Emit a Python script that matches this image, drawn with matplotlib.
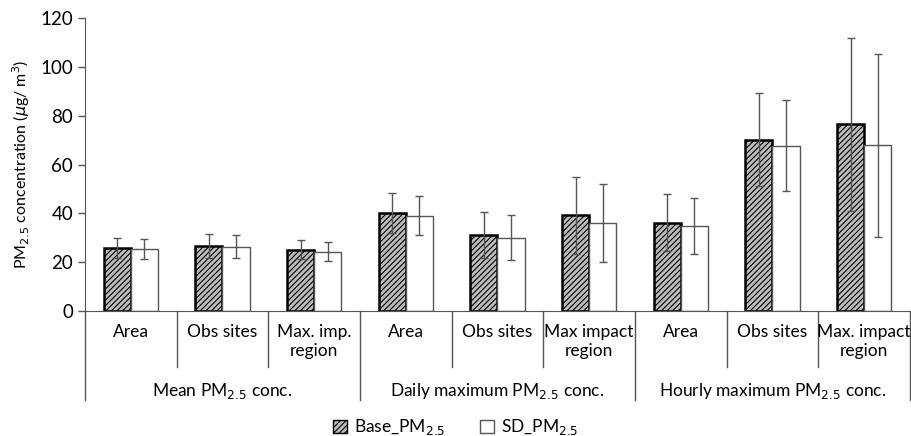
import matplotlib
matplotlib.use("Agg")
import matplotlib.pyplot as plt
import numpy as np
from matplotlib.patches import Patch

plt.rcParams["font.family"] = ["Lato", "DejaVu Sans"]
plt.rcParams["hatch.linewidth"] = 0.8

# data
groups = ["Mean PM$_{2.5}$ conc.", "Daily maximum PM$_{2.5}$ conc.", "Hourly maximum PM$_{2.5}$ conc."]
subcats = ["Area", "Obs sites", "Max. imp.\nregion",
           "Area", "Obs sites", "Max impact\nregion",
           "Area", "Obs sites", "Max. impact\nregion"]
base_vals = [25.8, 26.6, 25.0, 40.0, 31.3, 39.2, 36.2, 70.2, 76.4]
base_err = [4.0, 4.8, 3.9, 8.2, 9.4, 15.7, 11.7, 18.9, 35.5]
sd_vals = [25.5, 26.3, 24.3, 39.1, 30.0, 36.1, 34.8, 67.7, 67.9]
sd_err = [4.0, 4.7, 3.9, 8.1, 9.2, 16.1, 11.4, 18.6, 37.4]

fig = plt.figure(figsize=(9.11, 4.36), dpi=100)
ax = fig.add_axes([0.0933, 0.2867, 0.9056, 0.672])

x = np.arange(len(subcats))
w = 0.295
err_kw = dict(ecolor="#555555", elinewidth=1.0, capsize=3, capthick=1.0)

ax.bar(x - w / 2, base_vals, w, yerr=base_err, color="#bdbdbd", edgecolor="black",
       linewidth=1.8, hatch="//////", label="Base_PM$_{2.5}$", error_kw=err_kw, zorder=2)
ax.bar(x + w / 2, sd_vals, w, yerr=sd_err, color="white", edgecolor="#555555",
       linewidth=1.0, label="SD_PM$_{2.5}$", error_kw=err_kw, zorder=2)

ax.set_xlim(-0.5, len(subcats) - 0.5)
ax.set_ylim(0, 120)
ax.set_yticks(range(0, 121, 20))
ax.tick_params(axis="y", labelsize=13.5, length=5, color="#555555", width=1)
ax.set_xticks([])
for s in ["top", "right"]:
    ax.spines[s].set_visible(False)
ax.spines["left"].set_color("#555555")
ax.spines["bottom"].set_color("#555555")
ax.set_ylabel(r"PM$_{2.5}$ concentration ($\mu$g/ m$^3$)", fontsize=11.5, labelpad=6)

# hierarchical category axis
tr = ax.get_xaxis_transform()
for i in range(len(subcats) + 1):
    bottom = -0.304 if i % 3 == 0 else -0.191
    ax.plot([i - 0.5, i - 0.5], [0, bottom], transform=tr, color="#555555",
            lw=1.0, clip_on=False)
for i, lab in enumerate(subcats):
    ax.text(i, -0.045, lab, transform=tr, ha="center", va="top", fontsize=12.5,
            linespacing=1.2)
for g, lab in enumerate(groups):
    ax.text(3 * g + 1, -0.273, lab, transform=tr, ha="center", va="center", fontsize=12.5)

handles = [Patch(facecolor="#bdbdbd", edgecolor="black", hatch="//////", linewidth=1.0),
           Patch(facecolor="white", edgecolor="#555555", linewidth=1.0)]
fig.legend(handles, ["Base_PM$_{2.5}$", "SD_PM$_{2.5}$"], loc="center",
           bbox_to_anchor=(0.5, 0.02), ncol=2, frameon=False, fontsize=12.5,
           handlelength=0.8, handleheight=0.8, columnspacing=2.0, handletextpad=0.4)

fig.savefig("out.png", dpi=100)
